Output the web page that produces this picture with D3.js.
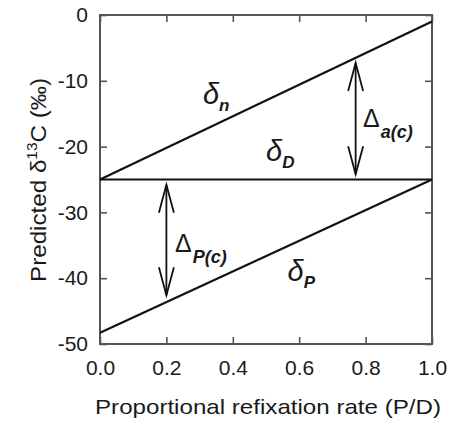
<!DOCTYPE html>
<html><head><meta charset="utf-8">
<script src="https://cdn.jsdelivr.net/npm/d3@7"></script>
<style>body{margin:0;background:#fff}svg{display:block}text{font-family:"Liberation Sans",Arial,Helvetica,sans-serif;fill:#1a1a1a}</style>
</head><body><svg id="c" width="451" height="426"></svg>
<script>
// Data
const xDomain = [0, 1];
const yDomain = [-50, 0];
const xTicks = [0, 0.2, 0.4, 0.6, 0.8, 1.0];
const yTicks = [0, -10, -20, -30, -40, -50];
const deltaN = [[0, -25], [1, -1.0]];
const deltaD = [[0, -25], [1, -25]];
const deltaP = [[0, -48.3], [1, -25]];
const arrowA = {x: 0.77, from: -24.2, to: -7.3};
const arrowP = {x: 0.2, from: -25.8, to: -42.6};
const labels = [
  {sym: "δ", sub: "n", x: 0.31, y: -13.5},
  {sym: "δ", sub: "D", x: 0.5, y: -22.2},
  {sym: "δ", sub: "P", x: 0.565, y: -40.4},
];
const deltaLabels = [
  {sym: "Δ", sub: "a(c)", x: 0.792, y: -17.0},
  {sym: "Δ", sub: "P(c)", x: 0.226, y: -36.0},
];
const xTitle = "Proportional refixation rate (P/D)";

const svg = d3.select("#c");
const m = {l: 100, r: 432, t: 15, b: 344};
const x = d3.scaleLinear().domain(xDomain).range([m.l, m.r]);
const y = d3.scaleLinear().domain(yDomain).range([m.b, m.t]);

const fmt = d3.format(".1f");
const tickLen = 7;
// axes (ticks inside)
const gB = svg.append("g").attr("transform", `translate(0,${m.b})`)
  .call(d3.axisBottom(x).tickValues(xTicks).tickFormat(fmt).tickSizeInner(-tickLen).tickSizeOuter(0).tickPadding(16));
const gT = svg.append("g").attr("transform", `translate(0,${m.t})`)
  .call(d3.axisTop(x).tickValues(xTicks).tickFormat("").tickSizeInner(-tickLen).tickSizeOuter(0));
const gL = svg.append("g").attr("transform", `translate(${m.l},0)`)
  .call(d3.axisLeft(y).tickValues(yTicks).tickFormat(d3.format("d")).tickSizeInner(-tickLen).tickSizeOuter(0).tickPadding(12));
const gR = svg.append("g").attr("transform", `translate(${m.r},0)`)
  .call(d3.axisRight(y).tickValues(yTicks).tickFormat("").tickSizeInner(-tickLen).tickSizeOuter(0));
[gB, gT, gL, gR].forEach(g => {
  g.select(".domain").remove();
  g.selectAll(".tick line").attr("stroke", "#555").attr("stroke-width", 1.6);
  g.selectAll(".tick text").style("font-size", "21px").attr("fill", "#1a1a1a");
});
gL.selectAll(".tick text").text(d => d === 0 ? "0" : "-" + Math.abs(d));

// frame
svg.append("rect").attr("x", m.l).attr("y", m.t).attr("width", m.r - m.l).attr("height", m.b - m.t)
  .attr("fill", "none").attr("stroke", "#555").attr("stroke-width", 2);

// lines
const line = d3.line().x(d => x(d[0])).y(d => y(d[1]));
[deltaN, deltaD, deltaP].forEach(dd => {
  svg.append("path").attr("d", line(dd)).attr("fill", "none").attr("stroke", "#111").attr("stroke-width", 2.2);
});

// arrows (double-headed, open V heads)
function dArrow(a) {
  const px = x(a.x), y1 = y(a.from), y2 = y(a.to);
  const g = svg.append("g").attr("stroke", "#111").attr("stroke-width", 1.8).attr("fill", "none");
  g.append("line").attr("x1", px).attr("x2", px).attr("y1", y1).attr("y2", y2);
  const hl = 28, hw = 7.5;
  [[y1, y1 < y2 ? 1 : -1], [y2, y2 < y1 ? 1 : -1]].forEach(([ty, dir]) => {
    g.append("path").attr("d", `M${px - hw},${ty + dir * hl}L${px},${ty}L${px + hw},${ty + dir * hl}`);
  });
}
dArrow(arrowA);
dArrow(arrowP);

// greek labels
labels.forEach(l => {
  const t = svg.append("text").attr("x", x(l.x)).attr("y", y(l.y));
  t.append("tspan").text(l.sym).style("font-size", "29px").style("font-style", "italic");
  t.append("tspan").text(l.sub).attr("dy", 7).style("font-size", "17px").style("font-style", "italic").style("font-weight", "bold");
});
deltaLabels.forEach(l => {
  const t = svg.append("text").attr("x", x(l.x)).attr("y", y(l.y));
  t.append("tspan").text(l.sym).style("font-size", "25px");
  t.append("tspan").text(l.sub).attr("dy", 11).attr("dx", 1).style("font-size", "18px").style("font-style", "italic").style("font-weight", "bold");
});

// axis titles
svg.append("text").attr("x", (m.l + m.r) / 2 + 2).attr("y", 414).attr("text-anchor", "middle")
  .style("font-size", "21px").attr("textLength", 346).attr("lengthAdjust", "spacingAndGlyphs").text(xTitle);
const yt = svg.append("text").attr("transform", `translate(46,180) rotate(-90)`).attr("text-anchor", "middle")
  .style("font-size", "22px").attr("textLength", 204).attr("lengthAdjust", "spacingAndGlyphs");
yt.append("tspan").text("Predicted δ");
yt.append("tspan").text("13").attr("dy", -9).style("font-size", "14px");
yt.append("tspan").text("C (‰)").attr("dy", 9);
</script></body></html>
